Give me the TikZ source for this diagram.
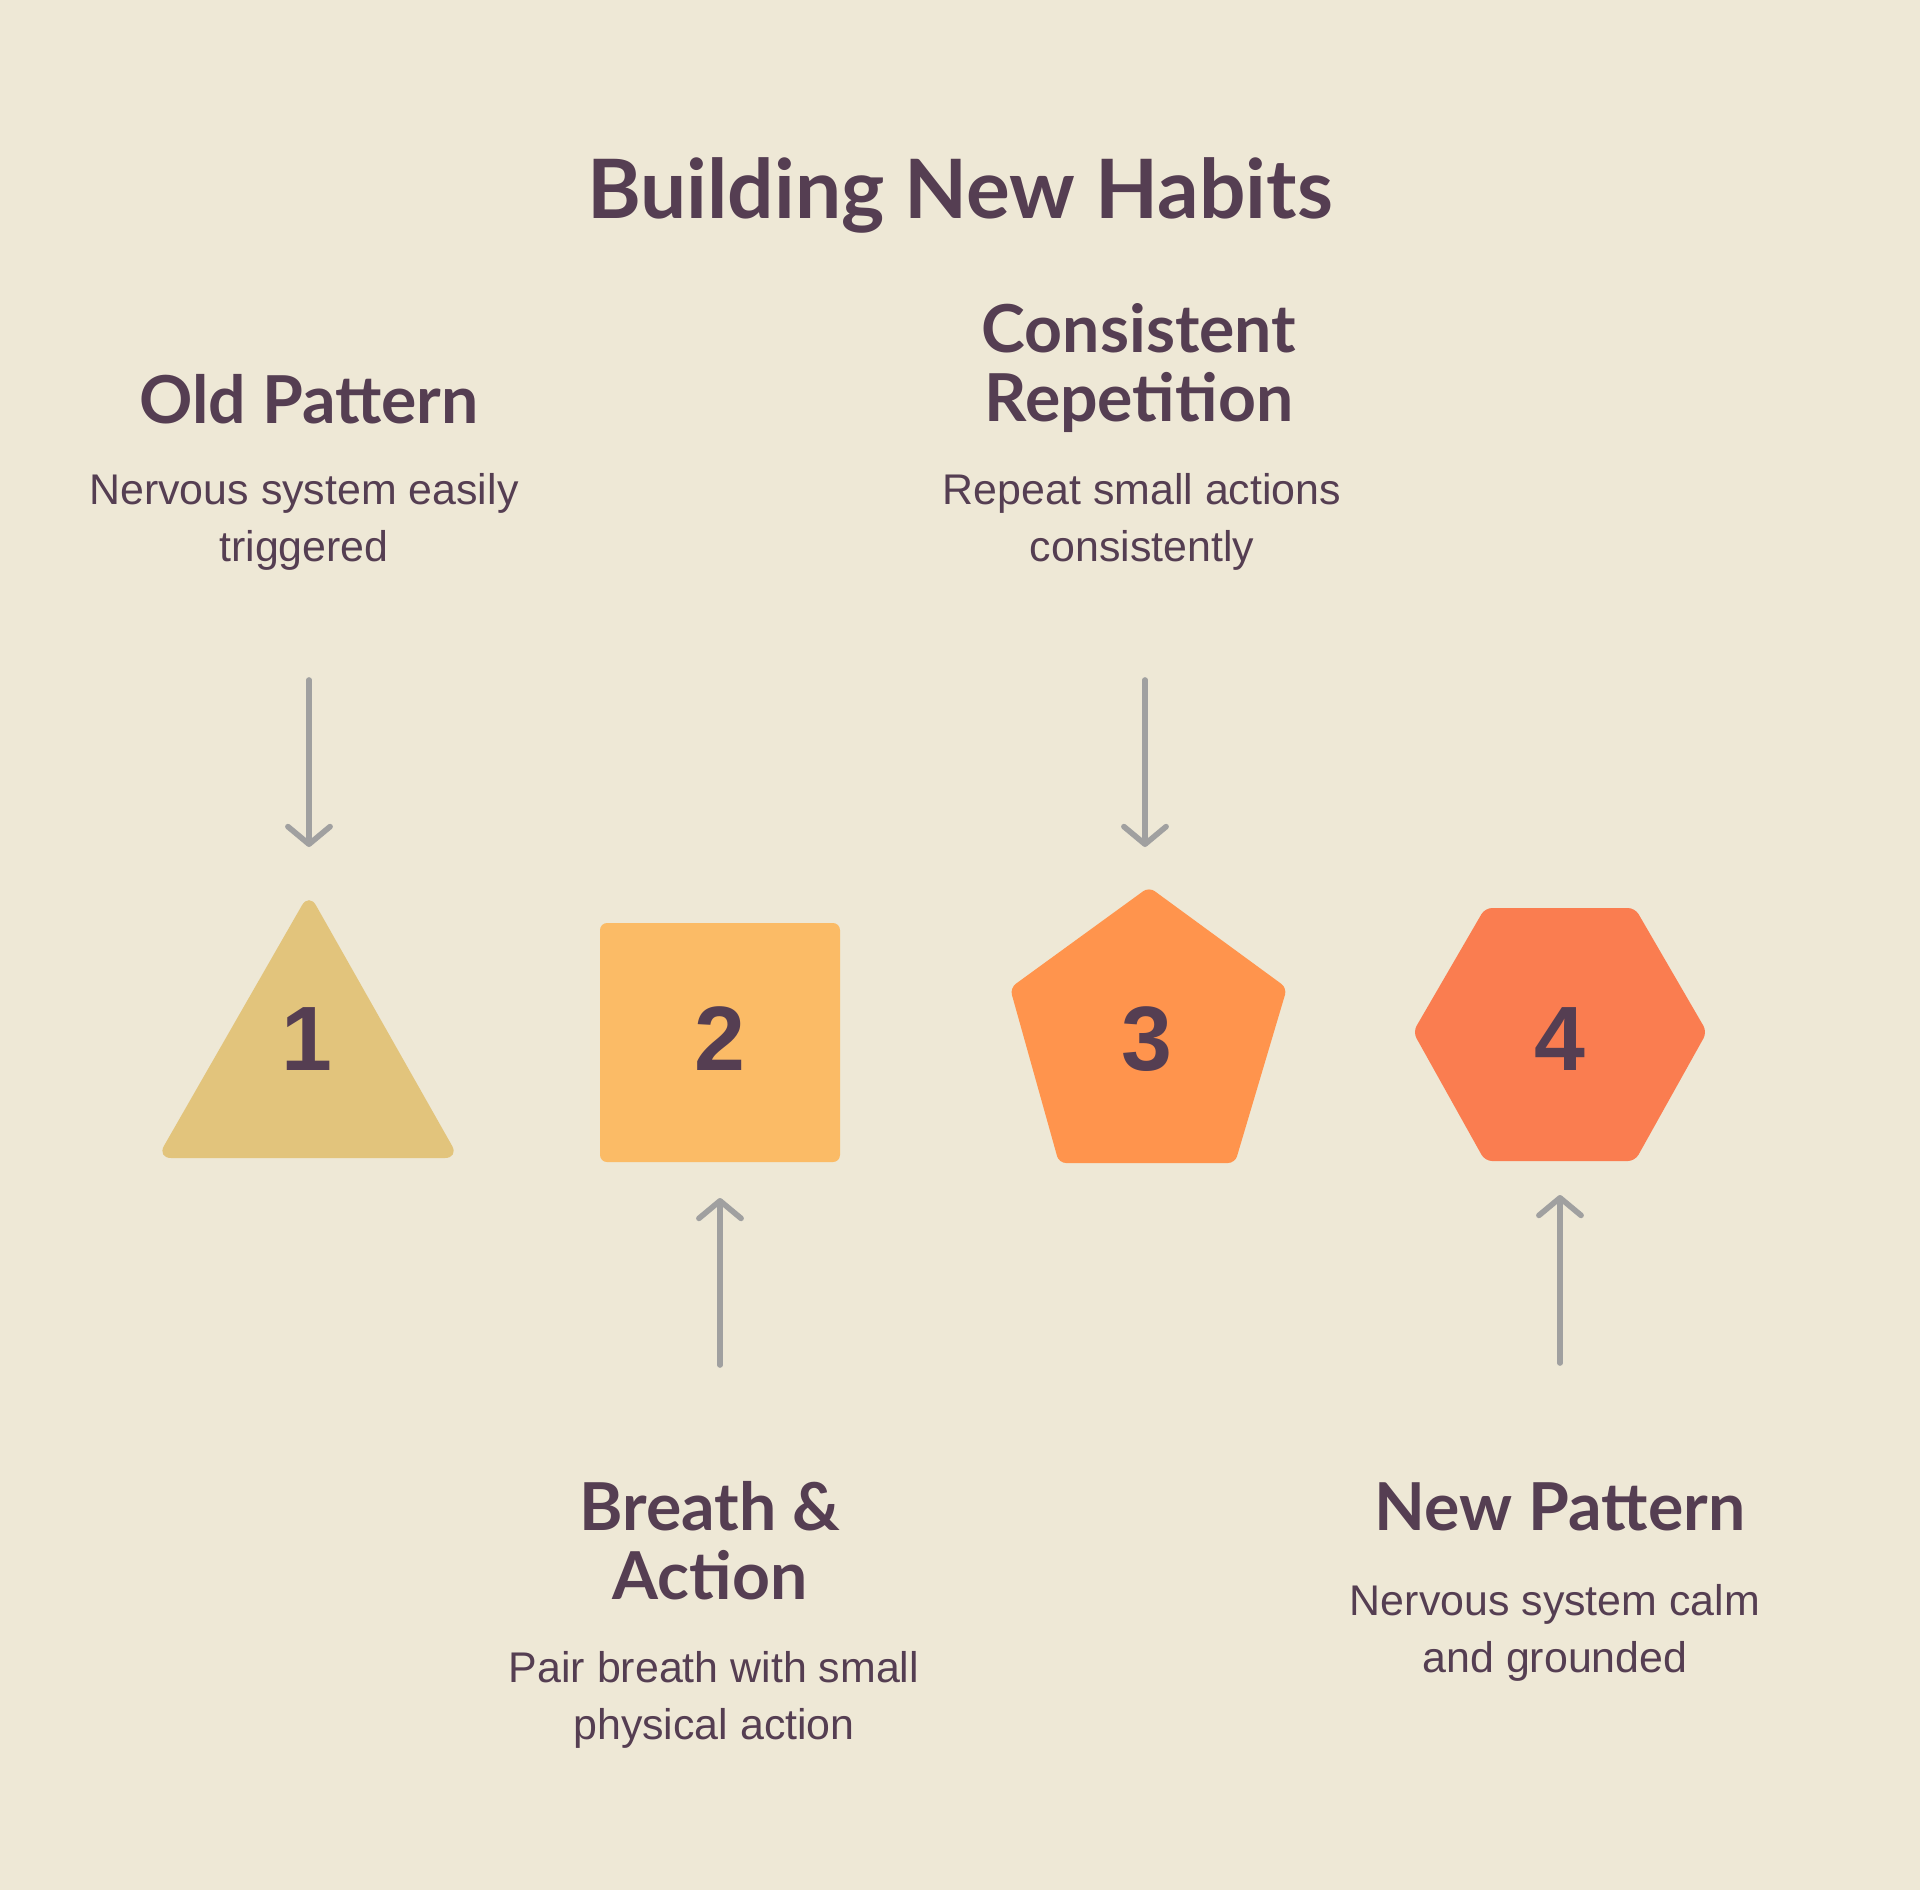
\documentclass[tikz,border=0pt]{standalone}
\usepackage{fontspec}
\setmainfont{Liberation Sans}
\newfontfamily\headfont{Lato}
\usetikzlibrary{arrows.meta}

\definecolor{bgCream}{HTML}{EEE8D6}
\definecolor{plum}{HTML}{553E52}
\definecolor{arrowGrey}{HTML}{A0A0A0}
\definecolor{sand}{HTML}{E2C47C}
\definecolor{apricot}{HTML}{FBBB66}
\definecolor{tangerine}{HTML}{FF944D}
\definecolor{coral}{HTML}{FA7D50}

\begin{document}
\begin{tikzpicture}[x=0.01cm,y=-0.01cm,
    heading/.style={text=plum,align=center,font=\headfont\bfseries\fontsize{18.8}{19.6}\selectfont},
    desc/.style={text=plum,align=center,font=\fontsize{12.2}{16.4}\selectfont},
    number/.style={text=plum,font=\bfseries\fontsize{26}{30}\selectfont},
    flow/.style={draw=arrowGrey,line width=1.6pt,line cap=round,
        -{Straight Barb[length=5pt,width=12pt,line cap=round,line join=round]}}]
    \fill[bgCream] (0,0) rectangle (1920,1890);

    \node[text=plum,font=\headfont\bfseries\fontsize{23.3}{27}\selectfont] (title) at (960,195) {Building New Habits};

    % labels above and below
    \node[heading] (oldPattern) at (309,399) {Old Pattern};
    \node[desc] (oldPatternText) at (304,522) {Nervous system easily\\triggered};
    \node[heading] (repetition) at (1139,368) {Consistent\\Repetition};
    \node[desc] (repetitionText) at (1142,522) {Repeat small actions\\consistently};
    \node[heading] (breathAction) at (710,1541) {Breath \&\\Action};
    \node[desc] (breathActionText) at (714,1700) {Pair breath with small\\physical action};
    \node[heading] (newPattern) at (1560,1507) {New Pattern};
    \node[desc] (newPatternText) at (1555,1633) {Nervous system calm\\and grounded};

    % the four shapes
    \fill[sand,rounded corners=4pt] (309,893) -- (459,1158) -- (157,1158) -- cycle;
    \fill[apricot,rounded corners=2pt] (600,923) rectangle (840,1162);
    \fill[tangerine,rounded corners=2pt] (1149,887) -- (1287,988) -- (1235,1163) -- (1059,1163) -- (1010,988) -- cycle;
    \fill[coral,rounded corners=2pt] (1485,908) -- (1635,908) -- (1707,1032) -- (1635,1161) -- (1485,1161) -- (1413,1032) -- cycle;

    \node[number] (stepOne) at (307,1039) {1};
    \node[number] (stepTwo) at (720,1039) {2};
    \node[number] (stepThree) at (1147,1039) {3};
    \node[number] (stepFour) at (1560,1039) {4};

    \coordinate (oldIn) at (309,680);
    \coordinate (oldTip) at (309,847);
    \coordinate (repIn) at (1145,680);
    \coordinate (repTip) at (1145,847);
    \coordinate (breathIn) at (720,1365);
    \coordinate (breathTip) at (720,1198);
    \coordinate (newIn) at (1560,1363);
    \coordinate (newTip) at (1560,1195);

    \draw[flow] (oldIn) -- (oldTip);
    \draw[flow] (repIn) -- (repTip);
    \draw[flow] (breathIn) -- (breathTip);
    \draw[flow] (newIn) -- (newTip);
\end{tikzpicture}
\end{document}
